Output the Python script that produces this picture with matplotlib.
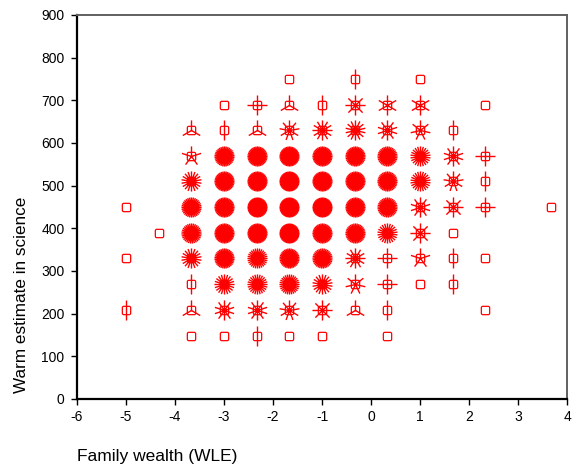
import numpy as np
import matplotlib
matplotlib.use("Agg")
import matplotlib.pyplot as plt
from matplotlib.path import Path

plt.rcParams["font.family"] = ["Liberation Sans", "DejaVu Sans"]
plt.rcParams["axes.unicode_minus"] = False

# wealth levels (columns) and science score levels (rows)
wealth = [-5.0, -4.33, -3.67, -3.0, -2.33, -1.67, -1.0, -0.33, 0.33, 1.0, 1.67, 2.33, 3.67]
score = [750, 690, 630, 570, 510, 450, 390, 330, 269, 208, 148]

# number of cases at each (score, wealth) cell
counts = [
    [0, 0, 0, 0, 0, 1, 0, 2, 0, 1, 0, 0, 0],
    [0, 0, 0, 1, 4, 3, 2, 8, 6, 6, 0, 1, 0],
    [0, 0, 3, 2, 3, 9, 12, 14, 10, 7, 2, 0, 0],
    [0, 0, 5, 34, 36, 38, 36, 35, 33, 22, 10, 4, 0],
    [0, 0, 18, 36, 38, 40, 38, 36, 34, 22, 9, 2, 0],
    [1, 0, 32, 36, 40, 40, 40, 36, 33, 10, 8, 4, 1],
    [0, 1, 31, 36, 38, 40, 36, 34, 22, 8, 1, 0, 0],
    [1, 0, 18, 34, 28, 35, 33, 12, 4, 5, 2, 1, 0],
    [0, 0, 2, 20, 24, 28, 18, 7, 4, 1, 2, 0, 0],
    [2, 0, 3, 10, 10, 9, 8, 3, 2, 0, 0, 1, 0],
    [0, 0, 1, 1, 2, 1, 1, 0, 1, 0, 0, 0, 0],
]


def petal_marker(n):
    # n spokes from the centre, first one pointing straight up
    ang = np.pi / 2 + 2 * np.pi * np.arange(n) / n
    verts, codes = [], []
    for a in ang:
        verts += [(0, 0), (np.cos(a), np.sin(a))]
        codes += [Path.MOVETO, Path.LINETO]
    return Path(verts, codes)


def rounded_square(r=0.35, k=6):
    pts = []
    for cx, cy, a0 in [(1, 1, 0), (-1, 1, 90), (-1, -1, 180), (1, -1, 270)]:
        t = np.radians(a0 + np.linspace(0, 90, k))
        for tt in t:
            pts.append((cx * (1 - r) + r * np.cos(tt), cy * (1 - r) + r * np.sin(tt)))
    pts.append(pts[0])
    return Path(pts, closed=True)


fig = plt.figure(figsize=(5.72, 4.71), dpi=100)
ax = fig.add_axes([77 / 572, 72 / 471, 490 / 572, 384 / 471])

red = "#ff0000"
xs_all, ys_all = [], []
groups = {}
for i, yv in enumerate(score):
    for j, xv in enumerate(wealth):
        n = counts[i][j]
        if n <= 0:
            continue
        xs_all.append(xv)
        ys_all.append(yv)
        if n > 1:
            groups.setdefault(n, ([], []))
            groups[n][0].append(xv)
            groups[n][1].append(yv)

for n, (gx, gy) in groups.items():
    ax.plot(gx, gy, linestyle="none", marker=petal_marker(n), ms=14.5,
            mec=red, mfc="none", mew=1.0)

ax.plot(xs_all, ys_all, linestyle="none", marker=rounded_square(), ms=6,
        mec=red, mfc="none", mew=0.9)

ax.set_xlim(-6, 4)
ax.set_ylim(0, 900)
ax.set_xticks(range(-6, 5))
ax.set_yticks(range(0, 901, 100))
ax.tick_params(direction="out", length=4, width=1, labelsize=10, color="black")
ax.tick_params(axis="y", pad=5)
ax.tick_params(axis="x", pad=4)

for s in ["left", "bottom"]:
    ax.spines[s].set_linewidth(1.6)
    ax.spines[s].set_color("black")
for s in ["top", "right"]:
    ax.spines[s].set_linewidth(1.4)
    ax.spines[s].set_color("#606060")

fig.text(22 / 572, 1 - 295 / 471, "Warm estimate in science", rotation=90,
         ha="center", va="center", fontsize=12.3)
fig.text(77 / 572, 1 - 457 / 471, "Family wealth (WLE)", ha="left",
         va="center", fontsize=12.5)

fig.savefig("out.png", dpi=100)
